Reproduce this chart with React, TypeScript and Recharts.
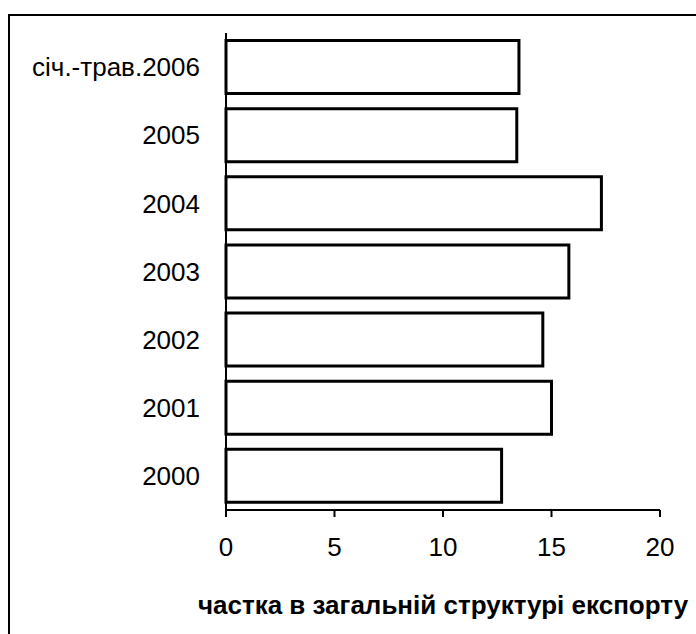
import React from 'react';
import { BarChart, Bar, XAxis, YAxis } from 'recharts';

const categories = ['січ.-трав.2006', '2005', '2004', '2003', '2002', '2001', '2000'];
const shares = [13.5, 13.4, 17.3, 15.8, 14.6, 15.0, 12.7];
const xTicks = [0, 5, 10, 15, 20];
const axisTitle = 'частка в загальній структурі експорту';

const data = categories.map((name, i) => ({ name, value: shares[i] }));

const font = '"Liberation Sans", Arial, sans-serif';

export default function App() {
  return (
    <div style={{ position: 'absolute', left: 0, top: 0, width: 696, height: 634, background: '#fff' }}>
      {/* scanned frame */}
      <div
        style={{
          position: 'absolute',
          left: 8,
          top: 14,
          right: 0,
          bottom: 0,
          borderLeft: '2px solid #000',
          borderTop: '2px solid #000',
        }}
      />
      <div style={{ position: 'absolute', left: 0, top: 0 }}>
        <BarChart
          width={696}
          height={634}
          data={data}
          layout="vertical"
          margin={{ top: 33, right: 36, bottom: 14, left: 26 }}
          barCategoryGap="11%"
        >
          <XAxis
            type="number"
            domain={[0, 20]}
            ticks={xTicks}
            height={110}
            axisLine={{ stroke: '#000', strokeWidth: 2 }}
            tickLine={{ stroke: '#000', strokeWidth: 2 }}
            tickSize={7}
            tickMargin={21}
            tick={{ fill: '#000', fontSize: 26, fontFamily: font }}
            label={{
              value: axisTitle,
              position: 'insideBottom',
              offset: 6,
              fill: '#000',
              fontSize: 26,
              fontWeight: 'bold',
              fontFamily: font,
            }}
          />
          <YAxis
            type="category"
            dataKey="name"
            width={200}
            axisLine={{ stroke: '#000', strokeWidth: 2 }}
            tickLine={false}
            tickMargin={20}
            tick={{ fill: '#000', fontSize: 26, fontFamily: font }}
          />
          <Bar dataKey="value" fill="#fff" stroke="#000" strokeWidth={3} isAnimationActive={false} />
        </BarChart>
      </div>
    </div>
  );
}
